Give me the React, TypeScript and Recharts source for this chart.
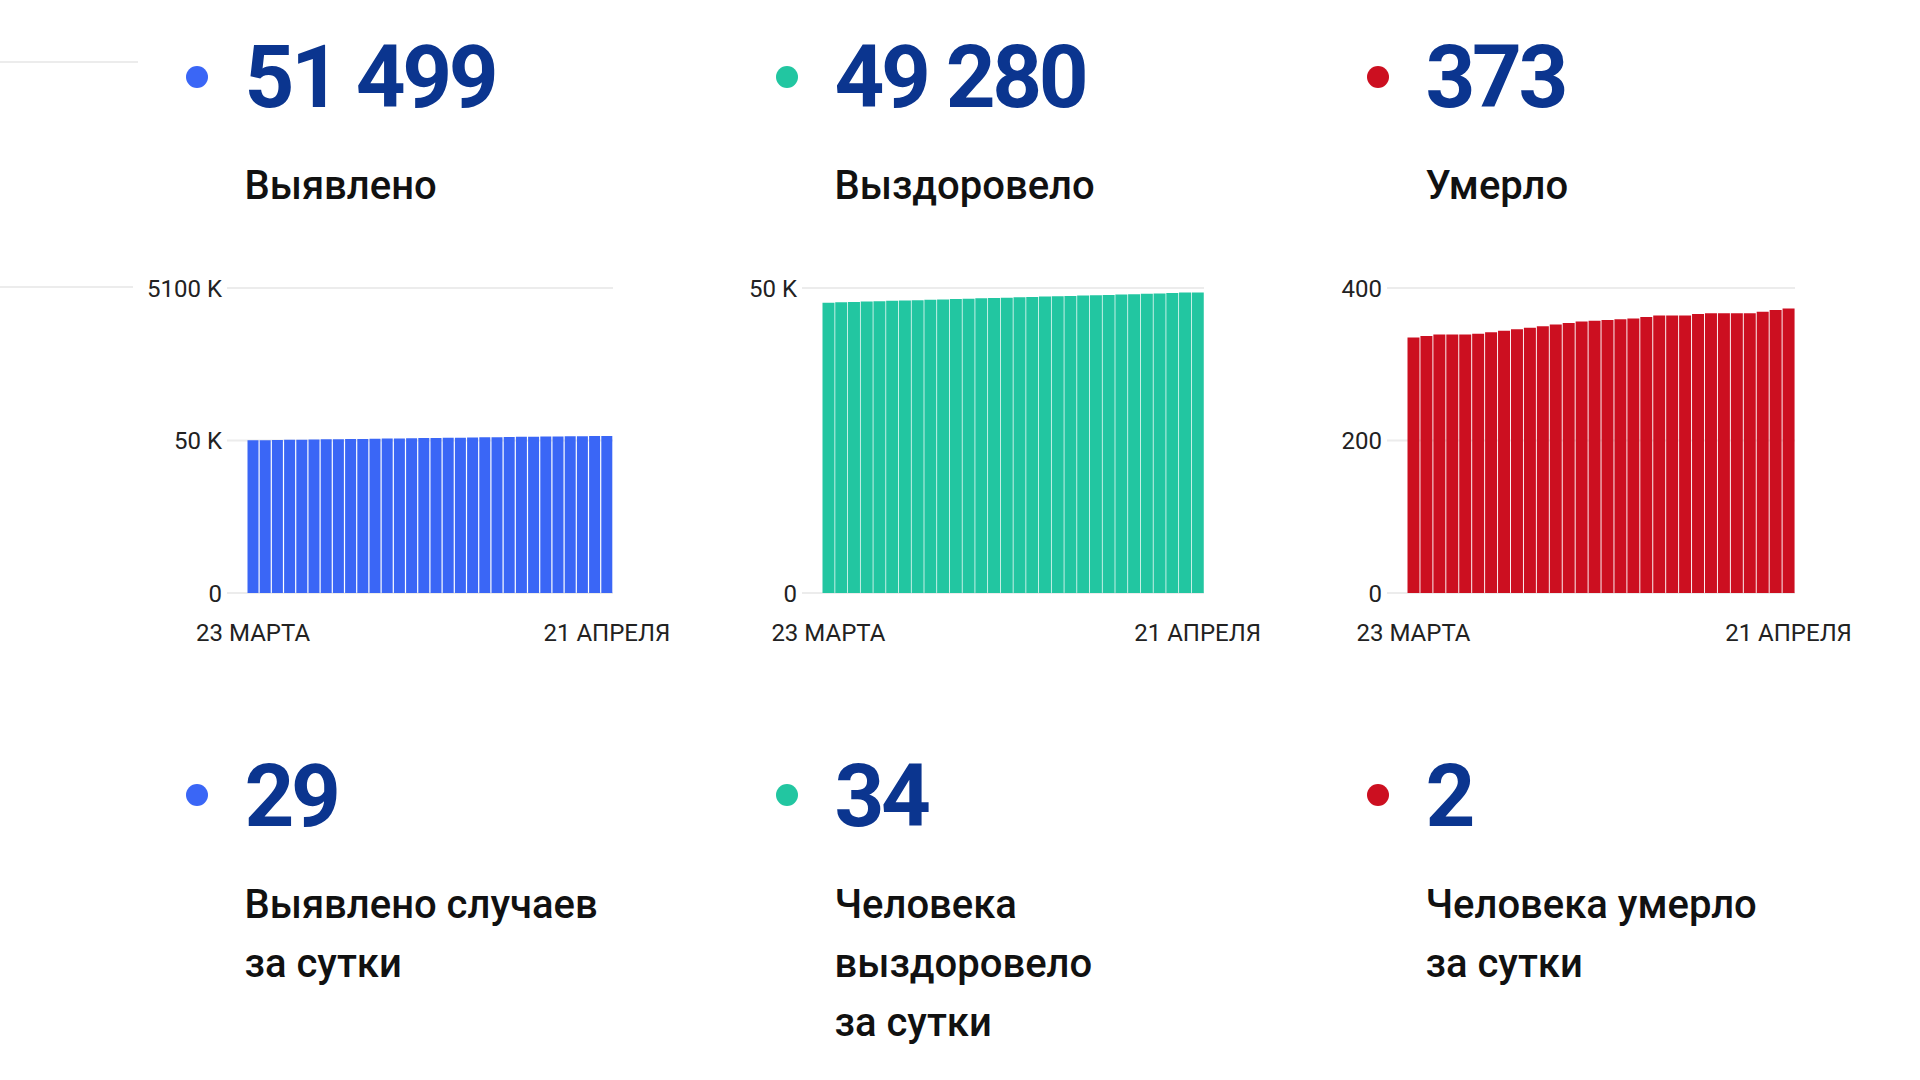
import { BarChart, Bar, XAxis, YAxis, CartesianGrid } from "recharts";

const days = [
  "23 МАРТА", "24 МАРТА", "25 МАРТА", "26 МАРТА", "27 МАРТА", "28 МАРТА",
  "29 МАРТА", "30 МАРТА", "31 МАРТА", "1 АПРЕЛЯ", "2 АПРЕЛЯ", "3 АПРЕЛЯ",
  "4 АПРЕЛЯ", "5 АПРЕЛЯ", "6 АПРЕЛЯ", "7 АПРЕЛЯ", "8 АПРЕЛЯ", "9 АПРЕЛЯ",
  "10 АПРЕЛЯ", "11 АПРЕЛЯ", "12 АПРЕЛЯ", "13 АПРЕЛЯ", "14 АПРЕЛЯ", "15 АПРЕЛЯ",
  "16 АПРЕЛЯ", "17 АПРЕЛЯ", "18 АПРЕЛЯ", "19 АПРЕЛЯ", "20 АПРЕЛЯ", "21 АПРЕЛЯ",
];

const detected = [
  50050, 50110, 50165, 50218, 50270, 50322, 50375, 50428, 50480, 50530,
  50585, 50636, 50688, 50740, 50790, 50841, 50890, 50940, 50990, 51040,
  51090, 51140, 51190, 51240, 51290, 51340, 51390, 51430, 51470, 51499,
];
const recovered = [
  47590, 47655, 47712, 47770, 47835, 47893, 47950, 48012, 48070, 48128,
  48190, 48245, 48302, 48360, 48418, 48475, 48530, 48590, 48645, 48700,
  48760, 48812, 48870, 48925, 48985, 49040, 49100, 49160, 49246, 49280,
];
const deaths = [
  335, 337, 339, 339, 339, 340, 342, 344, 346, 348,
  350, 352, 354, 356, 357, 358, 359, 360, 362, 364,
  364, 364, 366, 367, 367, 367, 367, 369, 371, 373,
];

const totals = ["51 499", "49 280", "373"];
const totalTitles = ["Выявлено", "Выздоровело", "Умерло"];
const daily = ["29", "34", "2"];
const dailyTitles = [
  ["Выявлено случаев", "за сутки"],
  ["Человека", "выздоровело", "за сутки"],
  ["Человека умерло", "за сутки"],
];

const colors = ["#3a66f6", "#22c6a1", "#cc0f20"];
const numColor = "#0b358f";
const colX = [244.5, 834.5, 1425.5];
const dotX = [197, 787, 1378];
const FONT = "Roboto, 'Open Sans', sans-serif";

const kFormat = (v: number) => {
  if (v === 0) return "0";
  if (v === 100000) return "5100 K";
  return `${v / 1000} K`;
};

type MiniProps = {
  values: number[];
  color: string;
  plotLeft: number;
  plotRight: number;
  domain: [number, number];
  yTicks: number[];
  fmt: (v: number) => string;
};

function MiniBars({ values, color, plotLeft, plotRight, domain, yTicks, fmt }: MiniProps) {
  const data = days.map((d, i) => ({ day: d, v: values[i] }));
  const yw = 100;
  const w = plotRight - plotLeft + yw + 80;
  return (
    <div style={{ position: "absolute", left: plotLeft - yw, top: 268 }}>
      <BarChart
        width={w}
        height={385}
        data={data}
        margin={{ top: 20, right: 80, bottom: 0, left: 0 }}
        barCategoryGap={0.5}
        style={{ fontFamily: FONT }}
      >
        <CartesianGrid vertical={false} stroke="#ececec" strokeWidth={2} />
        <XAxis
          dataKey="day"
          interval={28}
          axisLine={false}
          tickLine={false}
          tickSize={0}
          tickMargin={31}
          height={60}
          padding={{ left: 20, right: 0 }}
          tick={{ fill: "#222", fontSize: 24 }}
        />
        <YAxis
          width={yw}
          domain={domain}
          ticks={yTicks}
          axisLine={false}
          tickLine={false}
          tickSize={0}
          tickMargin={5}
          tickFormatter={fmt}
          tick={{ fill: "#222", fontSize: 24 }}
        />
        <Bar dataKey="v" fill={color} isAnimationActive={false} />
      </BarChart>
    </div>
  );
}

export default function App() {
  return (
    <div
      style={{
        position: "fixed",
        left: 0,
        top: 0,
        width: 1920,
        height: 1080,
        background: "#fff",
        overflow: "hidden",
        fontFamily: FONT,
      }}
    >
      <svg width={1920} height={1080} style={{ position: "absolute", left: 0, top: 0 }}>
        {/* обрезки соседнего блока слева */}
        <line x1={0} y1={62} x2={138} y2={62} stroke="#ececec" strokeWidth={2} />
        <line x1={0} y1={287} x2={133} y2={287} stroke="#ececec" strokeWidth={2} />

        {colX.map((x, i) => (
          <g key={i} fontFamily={FONT}>
            <circle cx={dotX[i]} cy={77} r={11} fill={colors[i]} />
            <text x={x} y={107} fontSize={87} fontWeight={700} letterSpacing={-3.4} fill={numColor}>
              {totals[i]}
            </text>
            <text x={x} y={199} fontSize={40} fontWeight={500} fill="#111">
              {totalTitles[i]}
            </text>

            <circle cx={dotX[i]} cy={795} r={11} fill={colors[i]} />
            <text x={x} y={826} fontSize={87} fontWeight={700} letterSpacing={-3.4} fill={numColor}>
              {daily[i]}
            </text>
            {dailyTitles[i].map((t, j) => (
              <text key={j} x={x} y={918 + j * 59} fontSize={40} fontWeight={500} fill="#111">
                {t}
              </text>
            ))}
          </g>
        ))}
      </svg>

      <MiniBars
        values={detected}
        color={colors[0]}
        plotLeft={227}
        plotRight={613}
        domain={[0, 100000]}
        yTicks={[0, 50000, 100000]}
        fmt={kFormat}
      />
      <MiniBars
        values={recovered}
        color={colors[1]}
        plotLeft={802}
        plotRight={1204}
        domain={[0, 50000]}
        yTicks={[0, 50000]}
        fmt={kFormat}
      />
      <MiniBars
        values={deaths}
        color={colors[2]}
        plotLeft={1387}
        plotRight={1795}
        domain={[0, 400]}
        yTicks={[0, 200, 400]}
        fmt={(v: number) => String(v)}
      />
    </div>
  );
}
